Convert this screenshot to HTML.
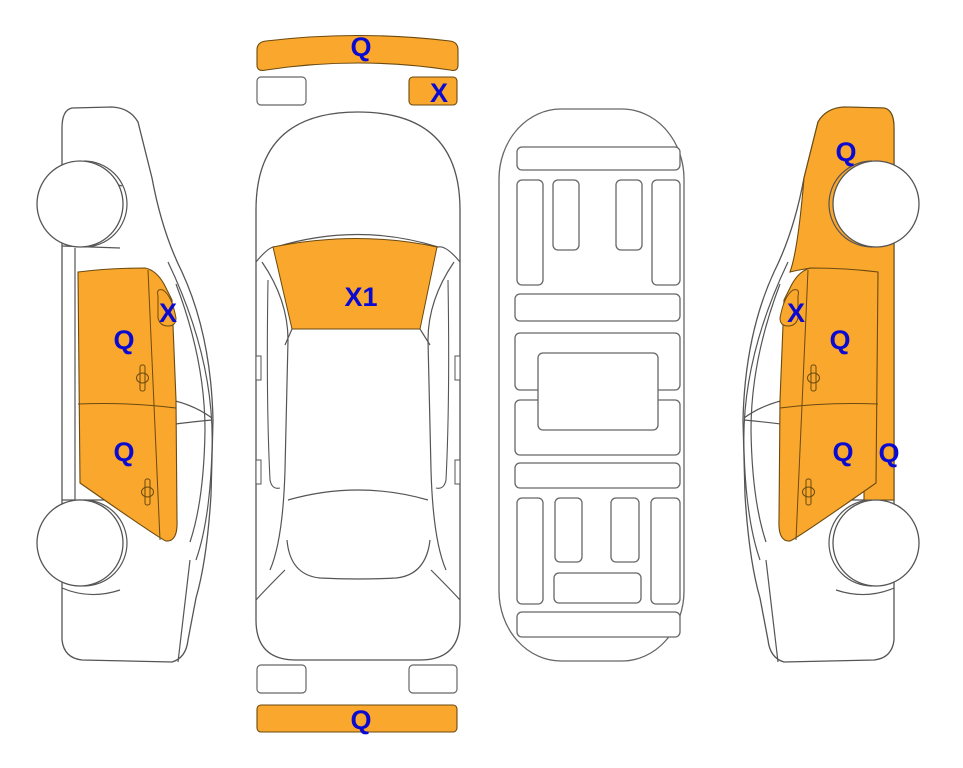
<!DOCTYPE html>
<html><head><meta charset="utf-8"><style>
html,body{margin:0;padding:0;background:#fff;}
svg{display:block;}
text{font-family:"Liberation Sans",Arial,sans-serif;font-weight:bold;fill:#0a0ad0;font-size:27px;text-anchor:middle;}
</style></head><body>
<svg width="963" height="768" viewBox="0 0 963 768" xmlns="http://www.w3.org/2000/svg">
<defs>
<g id="side">
  <!-- body outline -->
  <path d="M72,108 Q62,110 62,128 L62,640 Q64,658 82,660 L172,662 Q186,658 188,640 L196,598 Q207,560 211,495 L213,420 Q211,335 182,272 Q162,232 152,178 L138,122 Q130,108 112,107 Z" fill="#fff" stroke="#555" stroke-width="1.3"/>
  <path d="M62,182 Q90,176 122,186" fill="none" stroke="#555" stroke-width="1.2"/>
  <path d="M62,246 L120,248" fill="none" stroke="#555" stroke-width="1.2"/>
  <path d="M75,248 L75,500" fill="none" stroke="#555" stroke-width="1.2"/>
  <path d="M62,500 L120,500" fill="none" stroke="#555" stroke-width="1.2"/>
  <path d="M62,588 Q90,600 120,590" fill="none" stroke="#555" stroke-width="1.2"/>
  <path d="M168,262 Q215,360 212,450 Q210,520 196,560" fill="none" stroke="#555" stroke-width="1.2"/>
  <path d="M176,284 Q205,360 205,430 Q204,500 190,542" fill="none" stroke="#555" stroke-width="1.2"/>
  <path d="M160,398 Q190,402 212,418" fill="none" stroke="#555" stroke-width="1.2"/>
  <path d="M160,426 Q190,422 212,420" fill="none" stroke="#555" stroke-width="1.2"/>
  <path d="M190,560 L178,662" fill="none" stroke="#555" stroke-width="1.2"/>
</g>
<g id="wheels">
  <circle cx="80" cy="204" r="43" fill="#fff" stroke="#555" stroke-width="1.3"/>
  <path d="M80,161 A43,43 0 0 1 80,247" fill="none" stroke="#555" stroke-width="1.2" transform="translate(4,0)"/>
  <circle cx="80" cy="543" r="43" fill="#fff" stroke="#555" stroke-width="1.3"/>
  <path d="M80,500 A43,43 0 0 1 80,586" fill="none" stroke="#555" stroke-width="1.2" transform="translate(4,0)"/>
</g>
<g id="doors">
  <path d="M78,272 Q110,268 145,268 Q156,270 164,284 L172,300 L176,400 L177,520 Q178,542 166,541 Q160,539 80,483 Z" fill="#f9a72d" stroke="#6b4a10" stroke-width="1.1"/>
  <path d="M148,270 L160,540" fill="none" stroke="#6b4a10" stroke-width="1"/>
  <path d="M78,404 Q130,402 176,408" fill="none" stroke="#6b4a10" stroke-width="1"/>
  <rect x="140" y="365" width="5" height="26" rx="2" fill="none" stroke="#6b4a10"/>
  <ellipse cx="142.5" cy="378" rx="6" ry="5" fill="none" stroke="#6b4a10"/>
  <rect x="145" y="479" width="5" height="26" rx="2" fill="none" stroke="#6b4a10"/>
  <ellipse cx="147.5" cy="492" rx="6" ry="5" fill="none" stroke="#6b4a10"/>
  <path d="M158,296 Q156,288 163,290 Q172,296 176,318 Q176,326 168,326 Q160,326 158,318 Z" fill="#f9a72d" stroke="#6b4a10" stroke-width="1"/>
</g>
</defs>

<!-- LEFT CAR -->
<use href="#side"/>
<use href="#wheels"/>
<use href="#doors"/>
<text x="168" y="322">X</text>
<text x="124" y="349">Q</text>
<text x="124" y="461">Q</text>

<!-- RIGHT CAR (mirrored) -->
<g transform="translate(956,0) scale(-1,1)">
  <use href="#side"/>
  <path d="M72,108 Q62,110 62,128 L62,500 L92,500 L92,275 L145,268 Q158,270 166,272 Q158,250 152,178 L138,122 Q130,108 112,107 Z" fill="#f9a72d" stroke="#6b4a10" stroke-width="1.1"/>
  <use href="#wheels"/>
  <use href="#doors"/>
</g>
<text x="846" y="161">Q</text>
<text x="796" y="322">X</text>
<text x="840" y="349">Q</text>
<text x="843" y="461">Q</text>
<text x="889" y="462">Q</text>

<!-- TOP VIEW CAR -->
<path d="M256,210 Q256,112 358,112 Q460,112 460,210 L460,620 Q460,660 420,660 L296,660 Q256,660 256,620 Z" fill="#fff" stroke="#555" stroke-width="1.3"/>
<path d="M256,262 Q270,245 276,247 Q358,222 438,247 Q446,245 460,262" fill="none" stroke="#555" stroke-width="1.2"/>
<path d="M273,247 Q358,230 437,247 L420,329 L292,329 Z" fill="#f9a72d" stroke="#6b4a10" stroke-width="1"/>
<path d="M262,262 Q288,300 288,340 L285,470 Q283,540 270,570" fill="none" stroke="#555" stroke-width="1.2"/>
<path d="M454,262 Q428,300 428,340 L431,470 Q433,540 446,570" fill="none" stroke="#555" stroke-width="1.2"/>
<path d="M292,329 L285,345 M420,329 L430,345" fill="none" stroke="#555" stroke-width="1.2"/>
<path d="M288,500 Q358,480 428,500" fill="none" stroke="#555" stroke-width="1.2"/>
<path d="M287,540 Q290,575 320,578 Q358,580 396,578 Q426,575 430,540" fill="none" stroke="#555" stroke-width="1.2"/>
<path d="M256,600 Q265,590 285,570 M460,600 Q451,590 431,570" fill="none" stroke="#555" stroke-width="1.2"/>
<path d="M268,280 Q266,400 270,480 Q272,490 280,488 M448,280 Q450,400 446,480 Q444,490 436,488" fill="none" stroke="#555" stroke-width="1.1"/>
<rect x="256" y="356" width="5" height="24" fill="#fff" stroke="#555"/>
<rect x="455" y="356" width="5" height="24" fill="#fff" stroke="#555"/>
<rect x="256" y="460" width="5" height="24" fill="#fff" stroke="#555"/>
<rect x="455" y="460" width="5" height="24" fill="#fff" stroke="#555"/>
<text x="361" y="306">X1</text>

<!-- top parts -->
<path d="M257,50 Q257,42 266,41 Q358,30 450,41 Q458,42 458,50 L458,65 Q458,72 450,70 Q358,56 266,70 Q257,72 257,65 Z" fill="#f9a72d" stroke="#6b4a10" stroke-width="1.1"/>
<text x="361" y="56">Q</text>
<rect x="257" y="77" width="49" height="28" rx="4" fill="#fff" stroke="#666" stroke-width="1.2"/>
<rect x="409" y="77" width="48" height="28" rx="4" fill="#f9a72d" stroke="#6b4a10" stroke-width="1.1"/>
<text x="439" y="102">X</text>
<!-- bottom parts -->
<rect x="257" y="665" width="49" height="28" rx="4" fill="#fff" stroke="#666" stroke-width="1.2"/>
<rect x="409" y="665" width="48" height="28" rx="4" fill="#fff" stroke="#666" stroke-width="1.2"/>
<rect x="257" y="705" width="200" height="27" rx="4" fill="#f9a72d" stroke="#6b4a10" stroke-width="1.1"/>
<text x="361" y="729">Q</text>

<!-- INTERIOR -->
<g fill="#fff" stroke="#666" stroke-width="1.3">
<rect x="499" y="109" width="185" height="552" rx="62" ry="70"/>
<rect x="517" y="147" width="163" height="23" rx="5"/>
<rect x="517" y="180" width="26" height="105" rx="5"/>
<rect x="553" y="180" width="26" height="70" rx="5"/>
<rect x="616" y="180" width="26" height="70" rx="5"/>
<rect x="652" y="180" width="28" height="105" rx="5"/>
<rect x="515" y="294" width="165" height="27" rx="5"/>
<rect x="515" y="333" width="165" height="57" rx="5"/>
<rect x="515" y="400" width="165" height="55" rx="5"/>
<rect x="538" y="353" width="120" height="77" rx="5"/>
<rect x="515" y="463" width="165" height="25" rx="5"/>
<rect x="517" y="498" width="26" height="106" rx="5"/>
<rect x="555" y="498" width="27" height="64" rx="5"/>
<rect x="611" y="498" width="28" height="64" rx="5"/>
<rect x="651" y="498" width="29" height="106" rx="5"/>
<rect x="554" y="573" width="87" height="30" rx="5"/>
<rect x="517" y="612" width="163" height="25" rx="5"/>
</g>
</svg>
</body></html>
